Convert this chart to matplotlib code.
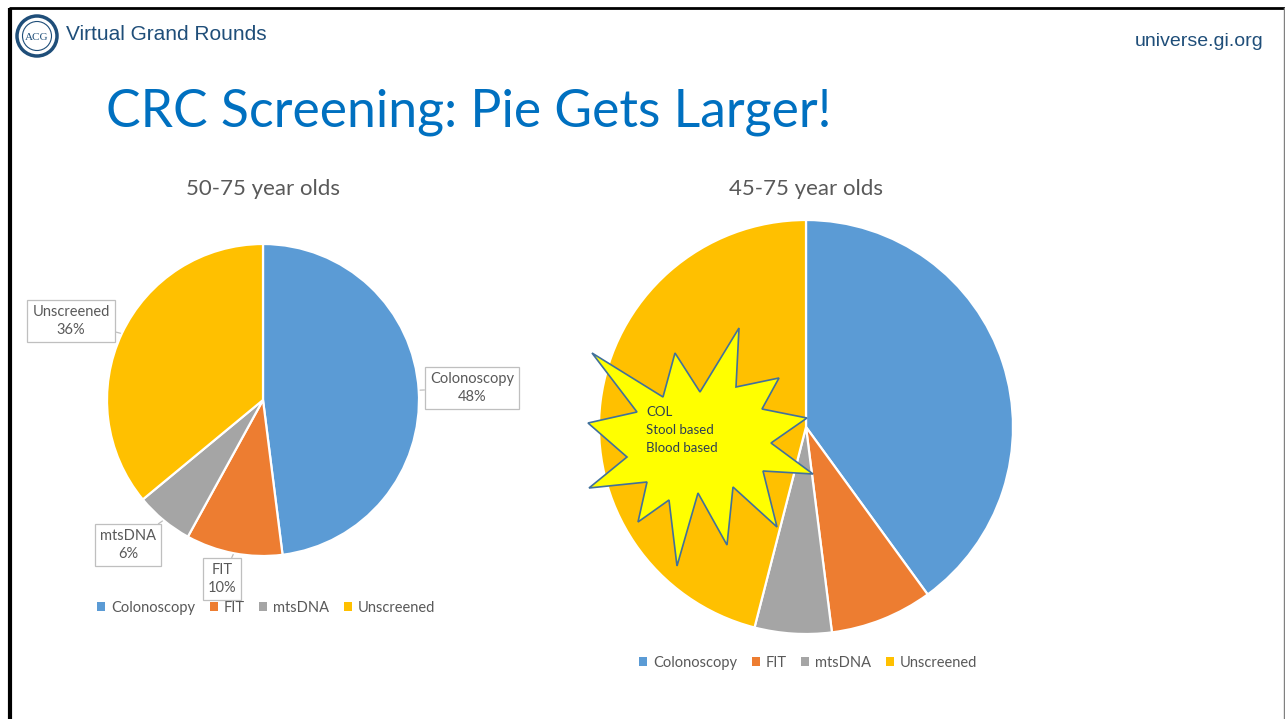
import numpy as np
import matplotlib.pyplot as plt
from matplotlib.patches import Polygon, Circle, Patch

plt.rcParams['font.family'] = ['Lato', 'DejaVu Sans']

# screening mix, percent of eligible population
categories = ['Colonoscopy', 'FIT', 'mtsDNA', 'Unscreened']
share_50_75 = [48, 10, 6, 36]
share_45_75 = [40, 8, 6, 46]
colors = ['#5B9BD5', '#ED7D31', '#A5A5A5', '#FFC000']

# explosion shape vertices (slide pixels)
burst = [(592, 353), (663, 397), (675, 353), (700, 392), (739, 328), (736, 387),
         (779, 378), (762, 409), (807, 418), (771, 443), (813, 474), (763, 471),
         (777, 527), (733, 487), (727, 545), (698, 493), (677, 566), (669, 500),
         (638, 522), (647, 482), (589, 488), (627, 457), (588, 423), (637, 412)]
burst_lines = 'COL\nStool based\nBlood based'

W, H = 1285, 719
GRAY = '#595959'
fig = plt.figure(figsize=(W / 100, H / 100), dpi=100)


def pie_axes(cx, cy, r):
    return fig.add_axes([(cx - r) / W, (H - cy - r) / H, 2 * r / W, 2 * r / H])


def draw_pie(ax, values):
    wedges, _ = ax.pie(values, colors=colors, startangle=90, counterclock=False,
                       wedgeprops=dict(edgecolor='white', linewidth=1.6))
    for w in wedges:
        w.set_clip_on(False)
    ax.set_xlim(-1, 1)
    ax.set_ylim(-1, 1)
    ax.set_aspect('equal')
    ax.axis('off')
    return wedges


def add_legend(ax, cx, cy):
    handles = [Patch(facecolor=c, edgecolor='none', label=l) for c, l in zip(colors, categories)]
    ax.legend(handles=handles, loc='center', ncol=4, frameon=False,
              bbox_to_anchor=(cx / W, 1 - cy / H), bbox_transform=fig.transFigure,
              fontsize=10.5, labelcolor=GRAY, handlelength=0.55, handleheight=0.55,
              handletextpad=0.4, columnspacing=1.0)


# left pie with callout labels
ax1 = pie_axes(263, 400, 156)
wedges1 = draw_pie(ax1, share_50_75)
label_pos = {'Colonoscopy': (472, 388), 'FIT': (222, 579),
             'mtsDNA': (128, 545), 'Unscreened': (71, 321)}
for w, name, val in zip(wedges1, categories, share_50_75):
    mid = np.deg2rad((w.theta1 + w.theta2) / 2)
    tx, ty = label_pos[name]
    ax1.annotate(f'{name}\n{val}%', xy=(np.cos(mid), np.sin(mid)),
                 xytext=(tx, H - ty), textcoords='figure pixels',
                 ha='center', va='center', fontsize=10.5, color=GRAY,
                 linespacing=1.3, annotation_clip=False,
                 bbox=dict(boxstyle='square,pad=0.35', fc='white', ec='#BFBFBF', lw=0.9),
                 arrowprops=dict(arrowstyle='-', color='#BFBFBF', lw=0.9,
                                 shrinkA=0, shrinkB=1))
add_legend(ax1, 266, 608)

# right pie
ax2 = pie_axes(806, 427, 207)
draw_pie(ax2, share_45_75)
add_legend(ax2, 808, 663)

# slide overlay in pixel coordinates
ov = fig.add_axes([0, 0, 1, 1], facecolor='none')
ov.set_xlim(0, W)
ov.set_ylim(H, 0)
ov.axis('off')

ov.plot([9.5, 9.5], [8, H], color='black', lw=3, solid_capstyle='butt')
ov.plot([9, W], [8, 8], color='black', lw=2, solid_capstyle='butt')
ov.plot([1283.5, 1283.5], [8, H], color='#808080', lw=1)

ov.add_patch(Circle((37, 36), 20, fc='white', ec='#1F4E79', lw=2.5))
ov.add_patch(Circle((37, 36), 14.5, fc='none', ec='#1F4E79', lw=0.8))
ov.text(37, 37, 'ACG', ha='center', va='center', fontsize=8, color='#1F4E79',
        family=['Liberation Serif', 'DejaVu Serif'])
ov.text(66, 34, 'Virtual Grand Rounds', ha='left', va='center', fontsize=15,
        color='#1F4E79', family=['Liberation Sans', 'DejaVu Sans'])
ov.text(1263, 42, 'universe.gi.org', ha='right', va='center', fontsize=14,
        color='#1F4E79', family=['Liberation Sans', 'DejaVu Sans'])

ov.text(106, 112, 'CRC Screening: Pie Gets Larger!', ha='left', va='center',
        fontsize=37.3, color='#0070C0')
ov.text(263, 189, '50-75 year olds', ha='center', va='center', fontsize=16, color=GRAY)
ov.text(806, 189, '45-75 year olds', ha='center', va='center', fontsize=16, color=GRAY)

ov.add_patch(Polygon(burst, closed=True, fc='#FFFF00', ec='#41719C', lw=1.2, zorder=5))
ov.text(646, 430, burst_lines, ha='left', va='center', fontsize=9.5,
        color='#2F4050', linespacing=1.55, zorder=6)

fig.savefig('out.png', dpi=100, facecolor='white')
